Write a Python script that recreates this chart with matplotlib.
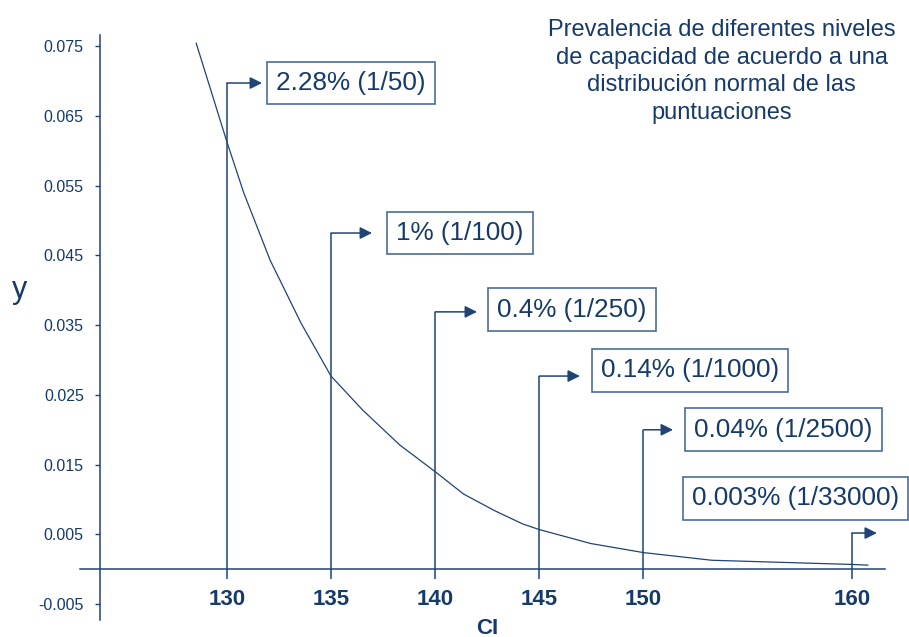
import matplotlib
matplotlib.use("Agg")
import matplotlib.pyplot as plt

plt.rcParams["font.family"] = ["Liberation Sans", "DejaVu Sans"]

# Density curve of the score distribution in the upper tail
ci_values = [128.53, 130.0, 130.82, 132.08, 133.56, 135.0, 136.53, 138.31, 140.0,
             141.36, 142.86, 144.21, 145.0, 147.47, 150.0, 153.28, 157.18, 160.0, 160.77]
density = [0.0754, 0.0613, 0.0539, 0.0443, 0.0353, 0.0277, 0.0228, 0.0178, 0.0140,
           0.0108, 0.0084, 0.0065, 0.0057, 0.0037, 0.0024, 0.0013, 0.00095, 0.0007, 0.0006]

# Cut-off scores and the share of the population above each one
thresholds = [130, 135, 140, 145, 150, 160]
prevalence = ["2.28% (1/50)", "1% (1/100)", "0.4% (1/250)",
              "0.14% (1/1000)", "0.04% (1/2500)", "0.003% (1/33000)"]

y_ticks = [-0.005, 0.005, 0.015, 0.025, 0.035, 0.045, 0.055, 0.065, 0.075]
y_tick_labels = ["-0.005", "0.005", "0.015", "0.025", "0.035", "0.045",
                 "0.055", "0.065", "0.075"]

title = ("Prevalencia de diferentes niveles\nde capacidad de acuerdo a una\n"
         "distribución normal de las\npuntuaciones")

TEXT = "#163A6A"
LINE = "#1F4475"
EDGE = "#4B6C98"

fig = plt.figure(figsize=(9.09, 6.37), dpi=100)
ax = fig.add_axes([0, 0, 1, 1])
ax.set_xlim(119.11, 162.75)
ax.set_ylim(-0.0097, 0.0816)

# axes drawn as crossing lines
for s in ("top", "right"):
    ax.spines[s].set_visible(False)
ax.spines["left"].set_position(("data", 123.91))
ax.spines["left"].set_bounds(-0.0073, 0.0766)
ax.spines["bottom"].set_position(("data", 0))
ax.spines["bottom"].set_bounds(122.95, 161.6)
for s in ("left", "bottom"):
    ax.spines[s].set_color(LINE)
    ax.spines[s].set_linewidth(1.1)

ax.set_yticks(y_ticks)
ax.set_yticklabels(y_tick_labels)
ax.tick_params(axis="y", direction="out", length=3.6, width=1, color=LINE,
               labelcolor=TEXT, labelsize=11.5, pad=8)
ax.set_xticks(thresholds)
ax.set_xticklabels([str(t) for t in thresholds], fontweight="bold")
ax.tick_params(axis="x", length=0, labelcolor=TEXT, labelsize=16, pad=14.4)

ax.set_ylabel("y", rotation=0, fontsize=22, color=TEXT, va="center", ha="center")
ax.yaxis.set_label_coords(0.022, 0.545)
ax.set_xlabel("CI", fontsize=16, fontweight="bold", color=TEXT, va="center", ha="center")
ax.xaxis.set_label_coords(0.536, 0.014)

ax.plot(ci_values, density, color=LINE, lw=0.9, clip_on=False)

# arrow levels, arrow tips and box placement for each cut-off
arrow_y = [0.0697, 0.0482, 0.0369, 0.0277, 0.0200, 0.0052]
arrow_tip = [131.69, 136.97, 142.01, 146.95, 151.42, 161.21]
box_x = [132.36, 138.12, 142.97, 147.96, 152.43, 152.33]
box_y = [0.0697, 0.0482, 0.0372, 0.0285, 0.0200, 0.0102]

for t, ay, tip, bx, by, lab in zip(thresholds, arrow_y, arrow_tip, box_x, box_y, prevalence):
    ax.plot([t, t], [-0.0014, ay], color=LINE, lw=1.1, solid_capstyle="butt")
    ax.annotate("", xy=(tip, ay), xytext=(t, ay),
                arrowprops=dict(arrowstyle="-|>", color=LINE, lw=1.1,
                                mutation_scale=18, shrinkA=0, shrinkB=0))
    ax.text(bx, by, lab, fontsize=18.8, color=TEXT, ha="left", va="center",
            bbox=dict(boxstyle="square,pad=0.36", fc="white", ec=EDGE, lw=1.2),
            clip_on=False)

fig.text(0.794, 0.970, title, fontsize=17, color=TEXT, ha="center", va="top",
         linespacing=1.33)

fig.savefig("out.png", dpi=100)
